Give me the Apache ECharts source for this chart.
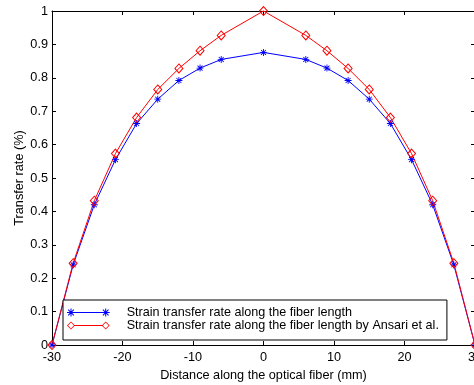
<!DOCTYPE html>
<html>
<head>
<meta charset="utf-8">
<script src="https://cdn.jsdelivr.net/npm/echarts@6/dist/echarts.min.js"></script>
<style>
  html, body { margin: 0; padding: 0; background: #fff; }
  #chart { width: 474px; height: 385px; }
</style>
</head>
<body>
<div id="chart"></div>
<script>
// distance along the fiber (mm)
const distance = [-30, -27, -24, -21, -18, -15, -12, -9, -6, 0, 6, 9, 12, 15, 18, 21, 24, 27, 30];
// strain transfer rate, this work
const transferRate = [0, 0.24, 0.42, 0.555, 0.663, 0.736, 0.792, 0.829, 0.855, 0.876,
  0.855, 0.829, 0.792, 0.736, 0.663, 0.555, 0.42, 0.24, 0];
// strain transfer rate, Ansari et al.
const transferRateAnsari = [0, 0.245, 0.432, 0.573, 0.681, 0.765, 0.828, 0.881, 0.927, 1.0,
  0.927, 0.881, 0.828, 0.765, 0.681, 0.573, 0.432, 0.245, 0];

const xTicks = { min: -30, max: 30, interval: 10 };
const yTicks = { min: 0, max: 1, interval: 0.1 };

const seriesNames = [
  'Strain transfer rate along the fiber length',
  'Strain transfer rate along the fiber length by Ansari et al.',
];

const font = 'Arial, "Liberation Sans", sans-serif';
const fontSize = 12.7;

// matlab style "*" marker built from bars
const f = (n) => +n.toFixed(3);
function star(cx, cy, r, t) {
  const h = t / 2, d = r * 0.7071, p = h * 0.7071;
  return [
    `M${f(cx - r)} ${f(cy - h)}H${f(cx + r)}V${f(cy + h)}H${f(cx - r)}Z`,
    `M${f(cx - h)} ${f(cy - r)}H${f(cx + h)}V${f(cy + r)}H${f(cx - h)}Z`,
    `M${f(cx - d + p)} ${f(cy - d - p)}L${f(cx + d + p)} ${f(cy + d - p)}L${f(cx + d - p)} ${f(cy + d + p)}L${f(cx - d - p)} ${f(cy - d + p)}Z`,
    `M${f(cx + d - p)} ${f(cy - d - p)}L${f(cx + d + p)} ${f(cy - d + p)}L${f(cx - d + p)} ${f(cy + d + p)}L${f(cx - d - p)} ${f(cy + d - p)}Z`,
  ].join('');
}
function hollowDiamond(cx, cy, r, ri) {
  return `M${f(cx)} ${f(cy - r)}L${f(cx + r)} ${f(cy)}L${f(cx)} ${f(cy + r)}L${f(cx - r)} ${f(cy)}Z` +
    `M${f(cx)} ${f(cy - ri)}L${f(cx - ri)} ${f(cy)}L${f(cx)} ${f(cy + ri)}L${f(cx + ri)} ${f(cy)}Z`;
}
function bar(x1, x2, cy, t) {
  return `M${f(x1)} ${f(cy - t / 2)}H${f(x2)}V${f(cy + t / 2)}H${f(x1)}Z`;
}

// legend icons: line with a marker at both ends
const c1 = 4, c2 = 38.7;
const blueIcon = 'path://' + bar(c1, c2, 4, 1) + star(c1, 4, 4, 1) + star(c2, 4, 4, 1);
const redIcon = 'path://' + bar(c1 + 3.5, c2 - 3.5, 4, 1) + hollowDiamond(c1, 4, 4, 2.9) + hollowDiamond(c2, 4, 4, 2.9);

const axisCommon = {
  type: 'value',
  axisLine: { show: true, onZero: false, lineStyle: { color: '#000', width: 1 } },
  axisTick: { show: true, inside: true, length: 4, lineStyle: { color: '#000' } },
  splitLine: { show: false },
};

const option = {
  animation: false,
  backgroundColor: '#fff',
  grid: { left: 52, right: -1, top: 11, bottom: 40, outerBoundsMode: 'none', containLabel: false },
  legend: {
    orient: 'vertical',
    left: 63,
    top: 300,
    padding: [6, 8, 8, 4],
    itemGap: 0,
    itemWidth: 42.7,
    itemHeight: 8,
    borderColor: '#000',
    borderWidth: 1,
    backgroundColor: '#fff',
    textStyle: { color: '#000', fontSize: 12.6, fontFamily: font, lineHeight: 11.8, padding: [0, 0, 0, 12] },
    data: [
      { name: seriesNames[0], icon: blueIcon, itemStyle: { color: '#0000ff', borderWidth: 0 } },
      { name: seriesNames[1], icon: redIcon, itemStyle: { color: '#ff0000', borderWidth: 0 } },
    ],
  },
  xAxis: [
    {
      ...axisCommon,
      ...xTicks,
      position: 'bottom',
      name: 'Distance along the optical fiber (mm)',
      nameLocation: 'middle',
      nameGap: 22.5,
      nameTextStyle: { color: '#000', fontSize: fontSize, fontFamily: font },
      axisLabel: { color: '#000', fontSize: fontSize, fontFamily: font, margin: 6 },
    },
    {
      ...axisCommon,
      ...xTicks,
      position: 'top',
      axisLabel: { show: false },
    },
  ],
  yAxis: [
    {
      ...axisCommon,
      ...yTicks,
      position: 'left',
      name: 'Transfer rate (%)',
      nameLocation: 'middle',
      nameGap: 26,
      nameMoveOverlap: false,
      nameTextStyle: { color: '#000', fontSize: fontSize, fontFamily: font },
      axisLabel: { color: '#000', fontSize: fontSize, fontFamily: font, margin: 4 },
    },
    {
      ...axisCommon,
      ...yTicks,
      position: 'right',
      axisLabel: { show: false },
    },
  ],
  series: [
    {
      name: seriesNames[0],
      type: 'line',
      data: distance.map((d, i) => [d, transferRate[i]]),
      symbol: 'path://' + star(4, 4, 4, 1),
      symbolSize: 7,
      itemStyle: { color: '#0000ff' },
      lineStyle: { color: '#0000ff', width: 1 },
      clip: false,
    },
    {
      name: seriesNames[1],
      type: 'line',
      data: distance.map((d, i) => [d, transferRateAnsari[i]]),
      symbol: 'diamond',
      symbolSize: [8, 9],
      itemStyle: { color: 'rgba(0,0,0,0)', borderColor: '#ff0000', borderWidth: 1 },
      lineStyle: { color: '#ff0000', width: 1 },
      clip: false,
    },
  ],
};

const chart = echarts.init(document.getElementById('chart'));
chart.setOption(option);
</script>
</body>
</html>
